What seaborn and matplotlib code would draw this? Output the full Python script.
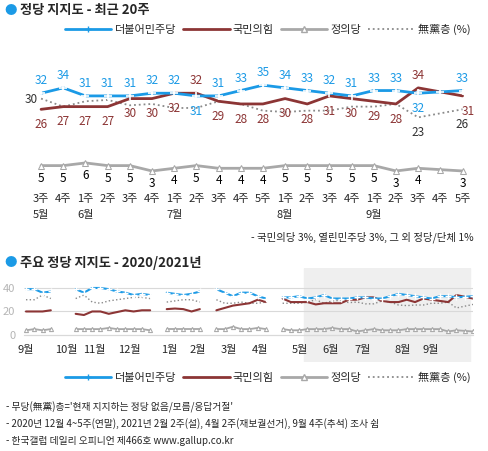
import numpy as np
import pandas as pd
import matplotlib.pyplot as plt
import seaborn as sns
from matplotlib.lines import Line2D
from matplotlib.transforms import blended_transform_factory

sns.set_style('white')
plt.rcParams['font.family'] = ['Noto Sans CJK KR', 'DejaVu Sans']

BLUE = '#1b9ae6'
RED = '#8c3535'
GRAY = '#a8a8a8'
DOT = '#8a8a8a'

# ---- 최근 20주 ----
weeks = ['3주', '4주', '1주', '2주', '3주', '4주', '1주', '2주', '3주', '4주', '5주',
         '1주', '2주', '3주', '4주', '1주', '2주', '3주', '4주', '5주']
months = {0: '5월', 2: '6월', 6: '7월', 11: '8월', 15: '9월'}
dem = [32, 34, 31, 31, 31, 32, 32, 31, 31, 33, 35, 34, 33, 32, 31, 33, 33, 32, 32.5, 33]
ppp = [26, 27, 27, 27, 30, 30, 32, 32, 29, 28, 28, 30, 28, 31, 30, 29, 28, 34, 32.5, 31]
none = [30, 27, 29, 29.5, 27.5, 28, 26.5, 26.5, 29, 28, 25.5, 25, 25.5, 25.5, 27, 27, 28, 23, 24.5, 26]
jd = [5, 5, 6, 5, 5, 3, 4, 5, 4, 4, 4, 5, 5, 5, 5, 5, 3, 4, 3.5, 3]

# ---- 2020/2021년 (주 단위, NaN = 조사 쉼) ----
nan = np.nan
dem_y = [39, 39, 36, 37, nan, nan, 39, 36, 40, 40, 39, 37, 36, 34, 35, 34, nan,
         36, 35, 34, 35, 37, nan, 39, 36, 33, 36, 36, 33, 31, nan,
         32, 32, 33, 31] + dem
ppp_y = [20, 20, 20, 21, nan, nan, 18, 17, 20, 20, 18, 19.5, 21, 20, 21, 21, nan,
         22, 22.5, 22, 20, 22, nan, 21, 23, 25, 26, 27, 30, 28, nan,
         31, 28, 28, 28] + ppp
none_y = [30, 30, 34, 31, nan, nan, 31, 34, 28, 27, 29, 30, 31, 32, 32, 31, nan,
          28, 29, 30, 30, 28, nan, 30, 27, 27, 28, 27, 27, 28, nan,
          27, 27, 27, 28] + none
jd_y = [4, 5, 4, 5, nan, nan, 5, 5, 5, 5, 6, 5, 5, 5, 5, 4, nan,
        5, 5, 5, 5, 5, nan, 5, 5, 7, 5, 5, 6, 5, nan,
        5, 4, 4, 5] + jd
month_pos = [0, 4.9, 8.2, 12.5, 17.3, 20.8, 24.5, 28.3, 33.1, 36.8, 40.7, 45.5, 48.9]
month_lab = ['9월', '10월', '11월', '12월', '1월', '2월', '3월', '4월', '5월', '6월', '7월', '8월', '9월']

fig = plt.figure(figsize=(4.88, 4.51), dpi=100)

# 제목
fig.text(0.008, 0.977, '●', color=BLUE, fontsize=9, va='center')
fig.text(0.042, 0.977, '정당 지지도 - 최근 20주', fontsize=9.5, fontweight='bold', va='center')
fig.text(0.008, 0.417, '●', color=BLUE, fontsize=9, va='center')
fig.text(0.042, 0.417, '주요 정당 지지도 - 2020/2021년', fontsize=9.5, fontweight='bold', va='center')

handles = [
    Line2D([], [], color=BLUE, lw=2, marker='+', markersize=5),
    Line2D([], [], color=RED, lw=2),
    Line2D([], [], color=GRAY, lw=2, marker='^', markersize=4, markerfacecolor='white'),
    Line2D([], [], color=DOT, lw=1.3, ls=':'),
]
names = ['더불어민주당', '국민의힘', '정의당', '無黨층 (%)']

# ---- top chart ----
ax = fig.add_axes([0.066, 0.612, 0.9, 0.211])
x = np.arange(len(weeks))
df = pd.DataFrame({'x': x, 'dem': dem, 'ppp': ppp, 'none': none, 'jd': jd})
sns.lineplot(data=df, x='x', y='none', ax=ax, color=DOT, lw=1.3, ls=':')
sns.lineplot(data=df, x='x', y='jd', ax=ax, color=GRAY, lw=2, marker='^', markersize=5,
             markerfacecolor='white', markeredgecolor=GRAY)
sns.lineplot(data=df, x='x', y='ppp', ax=ax, color=RED, lw=2)
sns.lineplot(data=df, x='x', y='dem', ax=ax, color=BLUE, lw=2, marker='+', markersize=6,
             markeredgewidth=1.2)
ax.set_xlim(-0.4, 19.4)
ax.set_ylim(1.5, 37)
for s in ax.spines.values():
    s.set_visible(False)
ax.set_yticks([])
ax.set_xticks(x)
ax.set_xticklabels(weeks, fontsize=8)
ax.tick_params(axis='x', length=0, pad=14)
ax.set_xlabel('')
ax.set_ylabel('')
tr = blended_transform_factory(ax.transData, fig.transFigure)
for i, m in months.items():
    ax.text(i, 1 - 215 / 451, m, transform=tr, ha='center', va='center', fontsize=8)

fs = 8.5
for i in range(len(x)):
    if i == 18:
        continue
    dy = -11 if i in (7, 17) else 9
    ax.annotate(f'{dem[i]:g}', (i, dem[i]), xytext=(0, dy), textcoords='offset points',
                ha='center', va='center', color=BLUE, fontsize=fs)
    dy = 9 if i in (7, 17) else -11
    dx = 4 if i == 19 else 0
    ax.annotate(f'{ppp[i]:g}', (i, ppp[i]), xytext=(dx, dy), textcoords='offset points',
                ha='center', va='center', color=RED, fontsize=fs)
    ax.annotate(f'{jd[i]:g}', (i, jd[i]), xytext=(0, -9), textcoords='offset points',
                ha='center', va='center', color='black', fontsize=fs)
ax.annotate('30', (0, none[0]), xytext=(-7, -1), textcoords='offset points',
            ha='center', va='center', color='#333333', fontsize=fs)
for i in (17, 19):
    ax.annotate(f'{none[i]:g}', (i, none[i]), xytext=(0, -11), textcoords='offset points',
                ha='center', va='center', color='#333333', fontsize=fs)

fig.legend(handles, names, loc='center right', bbox_to_anchor=(0.985, 0.934), ncol=4,
           frameon=False, fontsize=8, handlelength=4.2, columnspacing=0.6, handletextpad=0.3)
fig.text(0.97, 1 - 237 / 451, '- 국민의당 3%, 열린민주당 3%, 그 외 정당/단체 1%', fontsize=7.5,
         ha='right', va='center')

# ---- bottom chart ----
ax2 = fig.add_axes([23.5 / 488, 1 - 362 / 451, (473 - 23.5) / 488, 94 / 451])
xx = np.arange(len(dem_y))
df2 = pd.DataFrame({'x': xx, 'dem': dem_y, 'ppp': ppp_y, 'none': none_y, 'jd': jd_y})
df2['seg'] = df2['dem'].isna().cumsum()
df2 = df2.dropna()
ax2.axvspan(33.6, 53.6, color='#efefef', zorder=0)
for g in (0, 20, 40):
    ax2.axhline(g, color='#d9d9d9', lw=0.8, zorder=0.5)
kw = dict(data=df2, x='x', units='seg', estimator=None, ax=ax2, legend=False)
sns.lineplot(y='none', color=DOT, lw=1, ls=':', **kw)
sns.lineplot(y='jd', color=GRAY, lw=1.3, marker='^', markersize=3,
             markerfacecolor='white', markeredgecolor=GRAY, **kw)
sns.lineplot(y='ppp', color=RED, lw=1.5, **kw)
sns.lineplot(y='dem', color=BLUE, lw=1.5, marker='+', markersize=4, markeredgewidth=1, **kw)
ax2.set_xlim(-0.3, 53.5)
ax2.set_ylim(-23, 57)
for s in ['top', 'right', 'left']:
    ax2.spines[s].set_visible(False)
ax2.spines['bottom'].set_position(('data', 0))
ax2.spines['bottom'].set_color('#d9d9d9')
ax2.set_xticks(xx)
ax2.set_xticklabels([])
ax2.tick_params(axis='x', length=3, color='#cccccc', direction='out')
ax2.set_yticks([0, 20, 40])
ax2.tick_params(axis='y', length=0, labelcolor='#b5b5b5', labelsize=8, pad=6)
ax2.set_xlabel('')
ax2.set_ylabel('')
for p, m in zip(month_pos, month_lab):
    ax2.text(p, -13, m, ha='center', va='center', fontsize=8)

fig.legend(handles, names, loc='center right', bbox_to_anchor=(0.985, 0.163), ncol=4,
           frameon=False, fontsize=8, handlelength=4.2, columnspacing=0.6, handletextpad=0.3)

notes = ["- 무당(無黨)층='현재 지지하는 정당 없음/모름/응답거절'",
         '- 2020년 12월 4~5주(연말), 2021년 2월 2주(설), 4월 2주(재보궐선거), 9월 4주(추석) 조사 쉼',
         '- 한국갤럽 데일리 오피니언 제466호 www.gallup.co.kr']
for k, t in enumerate(notes):
    fig.text(0.012, 1 - (407 + 17 * k) / 451, t, fontsize=7, va='center')

fig.savefig('out.png', dpi=100)
